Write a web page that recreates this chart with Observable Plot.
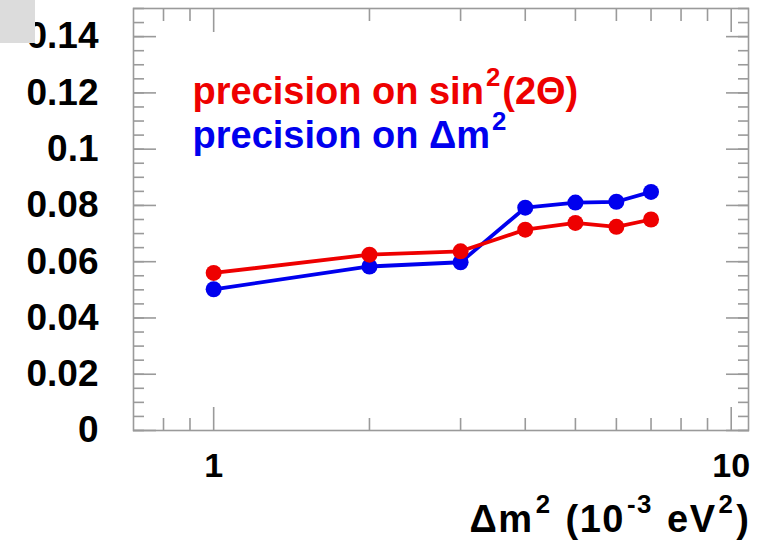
<!DOCTYPE html>
<html><head><meta charset="utf-8">
<script src="https://cdn.jsdelivr.net/npm/d3@7"></script>
<script src="https://cdn.jsdelivr.net/npm/@observablehq/plot@0.6"></script>
<style>
body{margin:0;background:#fff;}
#wrap{position:relative;width:768px;height:545px;overflow:hidden;}
#corner{position:absolute;left:0;top:0;width:35px;height:43px;background:#dcdcdc;}
</style></head><body><div id="wrap"><div id="chart"></div><div id="corner"></div></div>
<script>
// Δm² values (10^-3 eV²)
const dm2 = [1, 2, 3, 4, 5, 6, 7];
// precision on sin²(2Θ) (red)
const precSin = [0.0560, 0.0625, 0.0637, 0.0714, 0.0738, 0.0724, 0.0750];
// precision on Δm² (blue)
const precDm = [0.0502, 0.0583, 0.0598, 0.0792, 0.0810, 0.0813, 0.0848];
// axis ticks
const yMajor = [0, 0.02, 0.04, 0.06, 0.08, 0.10, 0.12, 0.14];
const yMinor = d3.range(0, 0.1501, 0.005);
const xMajor = [1, 10];
const xMinor = [0.8, 0.9, 2, 3, 4, 5, 6, 7, 8, 9];
const legendLabels = ["precision on sin^{2}(2Θ)", "precision on Δm^{2}"];
const xTitle = "Δm^{2} (10^{-3} eV^{2})";

const RED = "#ee0000", BLUE = "#0000ee", FRAME = "#9a9a9a";
const FONT = '"Liberation Sans", Arial, Helvetica, sans-serif';

const sinRows = dm2.map((x, i) => ({x, y: precSin[i]}));
const dmRows = dm2.map((x, i) => ({x, y: precDm[i]}));
const fmtY = d => d === 0 ? "0" : String(+d.toFixed(2));

const tickStyle = {stroke: FRAME, strokeWidth: 1.6, text: null, label: null};

const chart = Plot.plot({
  width: 768, height: 545,
  marginLeft: 133, marginRight: 20, marginTop: 8, marginBottom: 115,
  style: {fontFamily: FONT, fontWeight: "bold", background: "white", color: "black", overflow: "visible"},
  x: {type: "log", domain: [0.7, 10.8], label: null},
  y: {domain: [0, 0.15], label: null},
  marks: [
    Plot.frame({stroke: FRAME, strokeWidth: 1.6}),
    // inward ticks, left & right
    Plot.axisY({...tickStyle, anchor: "left", ticks: yMinor, tickSize: -11}),
    Plot.axisY({...tickStyle, anchor: "left", ticks: yMajor, tickSize: -23}),
    Plot.axisY({...tickStyle, anchor: "right", ticks: yMinor, tickSize: -11}),
    Plot.axisY({...tickStyle, anchor: "right", ticks: yMajor, tickSize: -23}),
    // inward ticks, bottom & top
    Plot.axisX({...tickStyle, anchor: "bottom", ticks: xMinor, tickSize: -12}),
    Plot.axisX({...tickStyle, anchor: "bottom", ticks: xMajor, tickSize: -23}),
    Plot.axisX({...tickStyle, anchor: "top", ticks: xMinor, tickSize: -12}),
    Plot.axisX({...tickStyle, anchor: "top", ticks: xMajor, tickSize: -23}),
    // labels
    Plot.axisY({anchor: "left", ticks: yMajor, tickSize: 0, tickPadding: 35, tickFormat: fmtY, fontSize: 37, fill: "black", label: null}),
    Plot.axisX({anchor: "bottom", ticks: xMajor, tickSize: 0, tickPadding: 22, tickFormat: d => String(d), fontSize: 34, fill: "black", label: null}),
    // data
    Plot.line(dmRows, {x: "x", y: "y", stroke: BLUE, strokeWidth: 3.8}),
    Plot.dot(dmRows, {x: "x", y: "y", r: 8, fill: BLUE, stroke: "none"}),
    Plot.line(sinRows, {x: "x", y: "y", stroke: RED, strokeWidth: 3.8}),
    Plot.dot(sinRows, {x: "x", y: "y", r: 8, fill: RED, stroke: "none"}),
    // legend
    Plot.text([legendLabels[0]], {frameAnchor: "top-left", textAnchor: "start", dx: 59, dy: 69, fontSize: 38, fill: RED}),
    Plot.text([legendLabels[1]], {frameAnchor: "top-left", textAnchor: "start", dx: 59, dy: 113, fontSize: 38, fill: BLUE}),
    // x-axis title
    Plot.text([xTitle], {frameAnchor: "bottom-right", textAnchor: "end", dx: 2, dy: 101, fontSize: 38, fill: "black"})
  ]
});

// render ^{...} as superscript tspans
const NS = "http://www.w3.org/2000/svg";
chart.querySelectorAll("text").forEach(t => {
  const s = t.textContent;
  if (!s.includes("^{")) return;
  const isTitle = s === xTitle;
  const gap = 2;
  if (isTitle) t.setAttribute("letter-spacing", "1.5");
  const fs = parseFloat(t.getAttribute("font-size") || (t.parentNode && t.parentNode.getAttribute("font-size")) || 36);
  const parts = s.split(/(\^\{[^}]*\})/).filter(p => p.length);
  t.textContent = "";
  let raised = 0;
  for (const p of parts) {
    const ts = document.createElementNS(NS, "tspan");
    if (p.startsWith("^{")) {
      ts.textContent = p.slice(2, -1);
      ts.setAttribute("font-size", (fs * 0.68).toFixed(1));
      ts.setAttribute("dy", (-fs * 0.48).toFixed(1));
      ts.setAttribute("dx", String(gap));
      raised = fs * 0.48;
    } else {
      ts.textContent = p;
      if (raised) { ts.setAttribute("dy", raised.toFixed(1)); ts.setAttribute("dx", String(gap)); }
      raised = 0;
    }
    t.appendChild(ts);
  }
});

document.getElementById("chart").appendChild(chart);
</script></body></html>
